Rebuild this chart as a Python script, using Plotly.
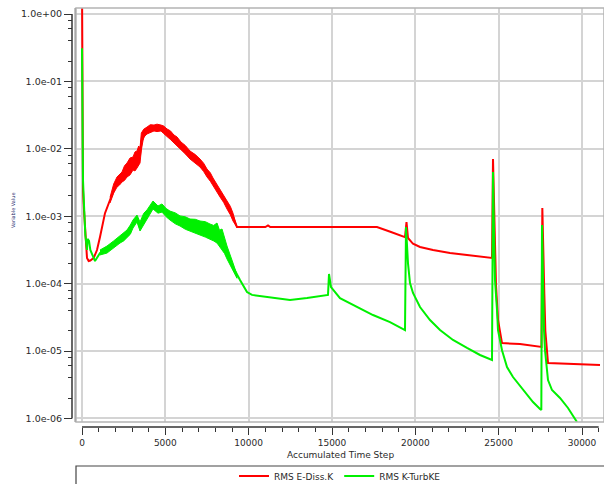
import plotly.graph_objects as go
import math

# ---------------- data ----------------
red_name = "RMS E-Diss.K"
green_name = "RMS K-TurbKE"

red_steps = [0, 30, 60, 120, 200, 300, 400, 500, 700, 900, 1080, 1380, 1680, 2100, 2400,
             2700, 3060, 3300, 3480, 3560, 3900, 4320, 4740, 5100, 5520, 5940, 6480, 7080,
             7500, 7860, 8280, 8700, 9060, 9300, 11000, 11160, 11300, 17700, 18540, 19380,
             19470, 19560, 19860, 20280, 21060, 22080, 23100, 23880, 24600, 24660, 24720,
             24780, 24840, 24960, 25200, 26280, 27480, 27570, 27620, 27680, 27740, 27800,
             27900, 27960, 31080]
red_vals = [3.0, 0.03, 2.45e-3, 1.23e-3, 5.85e-4, 2.4e-4, 2.16e-4, 2.2e-4, 2.4e-4, 3.15e-4,
            4.9e-4, 1.11e-3, 1.74e-3, 3.22e-3, 3.8e-3, 4.9e-3, 6.0e-3, 7.0e-3, 8.0e-3,
            1.28e-2, 1.87e-2, 2.03e-2, 2.03e-2, 1.71e-2, 1.4e-2, 1.1e-2, 8.1e-3, 6.2e-3,
            4.4e-3, 3.22e-3, 2.2e-3, 1.47e-3, 9.8e-4, 6.9e-4, 6.9e-4, 7.3e-4, 6.9e-4, 6.9e-4,
            5.83e-4, 4.9e-4, 8.2e-4, 4.75e-4, 3.9e-4, 3.5e-4, 3.15e-4, 2.84e-4, 2.66e-4,
            2.5e-4, 2.4e-4, 7.06e-3, 1.74e-3, 3.7e-4, 9.5e-5, 2.9e-5, 1.31e-5, 1.27e-5,
            1.15e-5, 1.15e-5, 1.32e-3, 4.4e-4, 7.0e-5, 2.0e-5, 8.7e-6, 6.64e-6, 6.2e-6]

# noisy band of the red series (upper / lower edges)
red_band_steps = [1680, 1900, 2100, 2250, 2400, 2550, 2700, 2880, 3060, 3180, 3300, 3400,
                  3480, 3560, 3700, 3900, 4100, 4320, 4500, 4740, 4900, 5100, 5300, 5520,
                  5700, 5940, 6200, 6480, 6800, 7080, 7300, 7500, 7700, 7860, 8050, 8280,
                  8500, 8700, 8900, 9060, 9300]
red_band_hi = [1.9e-3, 3.0e-3, 3.82e-3, 4.1e-3, 4.53e-3, 5.6e-3, 6.15e-3, 7.3e-3, 7.55e-3,
               9.0e-3, 9.27e-3, 1.1e-2, 1.03e-2, 1.71e-2, 1.95e-2, 2.1e-2, 2.28e-2, 2.25e-2,
               2.32e-2, 2.25e-2, 2.18e-2, 1.97e-2, 1.85e-2, 1.6e-2, 1.5e-2, 1.26e-2, 1.12e-2,
               9.27e-3, 8.2e-3, 7.06e-3, 6.1e-3, 5.01e-3, 4.4e-3, 3.69e-3, 3.1e-3, 2.53e-3,
               2.1e-3, 1.68e-3, 1.4e-3, 1.11e-3, 7.0e-4]
red_band_lo = [1.57e-3, 2.2e-3, 2.71e-3, 2.9e-3, 3.22e-3, 3.4e-3, 3.82e-3, 4.1e-3, 4.84e-3,
               4.7e-3, 5.19e-3, 5.6e-3, 6.15e-3, 9.6e-3, 1.5e-2, 1.66e-2, 1.75e-2, 1.84e-2,
               1.8e-2, 1.84e-2, 1.68e-2, 1.5e-2, 1.38e-2, 1.22e-2, 1.08e-2, 9.6e-3, 8.4e-3,
               7.06e-3, 6.1e-3, 5.37e-3, 4.6e-3, 3.82e-3, 3.3e-3, 2.81e-3, 2.4e-3, 1.93e-3,
               1.6e-3, 1.28e-3, 1.05e-3, 8.49e-4, 6.8e-4]

green_steps = [0, 30, 60, 120, 200, 300, 330, 420, 500, 700, 780, 1080, 1500, 1860, 2280,
               2700, 3060, 3300, 3480, 3900, 4260, 4560, 4800, 5280, 5880, 6480, 7080, 7680,
               8100, 8400, 8700, 9060, 9480, 9900, 10200, 11100, 12480, 13500, 14760, 14820,
               14940, 15480, 16500, 17460, 18480, 19380, 19440, 19500, 19560, 19680, 19860,
               20280, 20880, 21480, 22260, 23100, 23880, 24600, 24660, 24720, 24780, 24900,
               24960, 25200, 25500, 25860, 26460, 27060, 27480, 27560, 27600, 27660, 27720,
               27780, 27960, 28200, 28680, 29160, 29700]
green_vals = [0.31, 0.0287, 3.45e-3, 1.47e-3, 5.25e-4, 3.16e-4, 4.6e-4, 4.3e-4, 3.16e-4,
              2.4e-4, 2.16e-4, 2.84e-4, 3.15e-4, 3.74e-4, 4.43e-4, 5.44e-4, 7.66e-4, 9.08e-4,
              6.8e-4, 1.04e-3, 1.5e-3, 1.24e-3, 1.28e-3, 1.0e-3, 8.5e-4, 7.4e-4, 6.5e-4,
              5.8e-4, 5.4e-4, 4.4e-4, 2.84e-4, 1.76e-4, 1.13e-4, 7.5e-5, 6.8e-5, 6.3e-5,
              5.7e-5, 6.1e-5, 6.8e-5, 1.39e-4, 8.9e-5, 6.1e-5, 4.5e-5, 3.42e-5, 2.69e-5,
              2.05e-5, 6.9e-4, 4.0e-4, 2.0e-4, 1.02e-4, 7.26e-5, 4.5e-5, 2.88e-5, 2.05e-5,
              1.46e-5, 1.11e-5, 8.73e-6, 7.35e-6, 4.53e-3, 6.2e-4, 1.13e-4, 4.06e-5, 2.05e-5,
              1.03e-5, 5.79e-6, 4.11e-6, 2.64e-6, 1.75e-6, 1.38e-6, 1.33e-6, 7.4e-4, 1.1e-4,
              2.05e-5, 1.03e-5, 3.71e-6, 2.64e-6, 2.01e-6, 1.43e-6, 8.85e-7]

# noisy band of the green series (upper / lower edges)
green_band_steps = [1080, 1500, 1900, 2280, 2500, 2700, 2900, 3060, 3300, 3480, 3700, 3900,
                    4260, 4560, 4800, 5050, 5280, 5600, 5880, 6200, 6480, 6800, 7080, 7400,
                    7680, 7900, 8100, 8250, 8400, 8550, 8700, 9060, 9300]
green_band_hi = [3.15e-4, 3.61e-4, 4.3e-4, 5.08e-4, 5.6e-4, 6.24e-4, 7.4e-4, 8.78e-4,
                 1.04e-3, 8.2e-4, 1.1e-3, 1.24e-3, 1.68e-3, 1.42e-3, 1.52e-3, 1.3e-3,
                 1.19e-3, 1.12e-3, 1.01e-3, 9.8e-4, 9.08e-4, 9.0e-4, 8.49e-4, 8.3e-4,
                 7.66e-4, 7.3e-4, 7.93e-4, 6.2e-4, 6.46e-4, 4.8e-4, 3.61e-4, 2.02e-4, 1.35e-4]
green_band_lo = [2.66e-4, 2.84e-4, 3.4e-4, 4.0e-4, 4.3e-4, 4.75e-4, 5.4e-4, 6.68e-4,
                 8.2e-4, 6.03e-4, 7.6e-4, 9.08e-4, 1.28e-3, 1.11e-3, 1.15e-3, 9.8e-4,
                 8.78e-4, 7.7e-4, 7.16e-4, 6.4e-4, 6.03e-4, 5.6e-4, 5.26e-4, 4.9e-4,
                 4.59e-4, 4.3e-4, 4.0e-4, 3.6e-4, 3.15e-4, 2.8e-4, 2.32e-4, 1.54e-4, 1.2e-4]

y_tick_vals = [1e-6, 1e-5, 1e-4, 1e-3, 1e-2, 1e-1, 1e0]
y_tick_text = ["1.0e-06", "1.0e-05", "1.0e-04", "1.0e-03", "1.0e-02", "1.0e-01", "1.0e+00"]
x_tick_vals = [0, 5000, 10000, 15000, 20000, 25000, 30000]
x_tick_text = ["0", "5000", "10000", "15000", "20000", "25000", "30000"]
x_title = "Accumulated Time Step"
y_title = "Variable Value"

# ---------------- styling ----------------
RED = "#ff0000"
GREEN = "#00f000"
FONT = "DejaVu Sans"
x_range = [-360, 31320]
y_log_range = [-6.053, 0.089]
minor_y = [m * 10 ** e for e in range(-6, 0) for m in (2, 4, 6, 8)]

fig = go.Figure()
fig.add_trace(go.Scatter(
    x=red_band_steps + red_band_steps[::-1], y=red_band_hi + red_band_lo[::-1],
    fill="toself", fillcolor=RED, mode="lines", line=dict(color=RED, width=1),
    showlegend=False, hoverinfo="skip"))
fig.add_trace(go.Scatter(x=red_steps, y=red_vals, mode="lines", name=red_name,
                         line=dict(color=RED, width=2)))
fig.add_trace(go.Scatter(
    x=green_band_steps + green_band_steps[::-1], y=green_band_hi + green_band_lo[::-1],
    fill="toself", fillcolor=GREEN, mode="lines", line=dict(color=GREEN, width=1),
    showlegend=False, hoverinfo="skip"))
fig.add_trace(go.Scatter(x=green_steps, y=green_vals, mode="lines", name=green_name,
                         line=dict(color=GREEN, width=2)))

W, H = 604, 484
ml, mr, mt, mb = 72, 0, 8, 57
pw, ph = W - ml - mr, H - mt - mb


def fy(v):
    return (math.log10(v) - y_log_range[0]) / (y_log_range[1] - y_log_range[0])


fig.update_layout(
    width=W, height=H,
    margin=dict(l=ml, r=mr, t=mt, b=mb, pad=0, autoexpand=False),
    paper_bgcolor="white", plot_bgcolor="white",
    font=dict(family=FONT, size=9, color="#2a2a2a"),
    showlegend=True,
    legend=dict(orientation="h", x=(340 - ml) / pw, xanchor="center",
                y=(H - mb - 476) / ph, yanchor="middle",
                bgcolor="rgba(0,0,0,0)", font=dict(family=FONT, size=9, color="#2a2a2a")),
    xaxis=dict(
        domain=[4 / pw, 1], anchor="free", position=0, automargin=False,
        range=x_range, tickmode="array", tickvals=x_tick_vals, ticktext=x_tick_text,
        ticks="outside", ticklen=7, tickwidth=1, tickcolor="#333",
        minor=dict(dtick=1000, tick0=0, ticks="outside", ticklen=4, tickwidth=1,
                   tickcolor="#333", showgrid=False),
        showgrid=True, gridcolor="#d4d4d4", gridwidth=1.5,
        zeroline=False, showline=False,
        tickfont=dict(family=FONT, size=9, color="#2a2a2a"),
    ),
    yaxis=dict(
        type="log", domain=[(H - mb - 422) / ph, 1], anchor="free", position=0,
        automargin=False,
        range=y_log_range, tickmode="array", tickvals=y_tick_vals, ticktext=y_tick_text,
        ticks="outside", ticklen=8, tickwidth=1, tickcolor="#333",
        minor=dict(tickmode="array", tickvals=minor_y, ticks="outside", ticklen=4,
                   tickwidth=1, tickcolor="#333", showgrid=False),
        showgrid=True, gridcolor="#d4d4d4", gridwidth=1.5,
        zeroline=False, showline=False,
        tickfont=dict(family=FONT, size=9.5, color="#2a2a2a"),
    ),
    annotations=[
        dict(text=x_title, xref="x domain", x=0.5, yref="paper", y=(H - mb - 455) / ph,
             xanchor="center", yanchor="middle", showarrow=False,
             font=dict(family=FONT, size=9, color="#2a2a2a")),
        dict(text=y_title, xref="paper", x=(13 - ml) / pw, yref="paper",
             y=(H - mb - 210) / ph, textangle=-90, xanchor="center", yanchor="middle",
             showarrow=False, font=dict(family=FONT, size=5, color="#1a2a6c")),
    ],
    shapes=[
        # plot frame
        dict(type="rect", xref="x domain", yref="y domain", x0=0, x1=1, y0=0, y1=1,
             line=dict(color="#b4b4b4", width=1.5), layer="above"),
        dict(type="line", xref="paper", yref="y domain", x0=(75 - ml) / pw, x1=(75 - ml) / pw,
             y0=0, y1=1, line=dict(color="#8a8a8a", width=1)),
        # axis lines (spanning first to last tick)
        dict(type="line", xref="paper", yref="y domain", x0=0, x1=0,
             y0=fy(y_tick_vals[0]), y1=fy(y_tick_vals[-1]), line=dict(color="#333", width=1.5)),
        dict(type="line", xref="x", yref="paper", x0=0, x1=31000, y0=0, y1=0,
             line=dict(color="#333", width=1.5)),
        # legend box
        dict(type="rect", xref="paper", yref="paper", x0=(76 - ml) / pw, x1=1.05,
             y0=(H - mb - 466) / ph, y1=-0.3, line=dict(color="#444", width=1.2)),
    ],
)

fig.write_html("out.html",
               config={"displayModeBar": False},
               post_script="document.body.style.margin='0px';document.body.style.overflow='hidden';")
